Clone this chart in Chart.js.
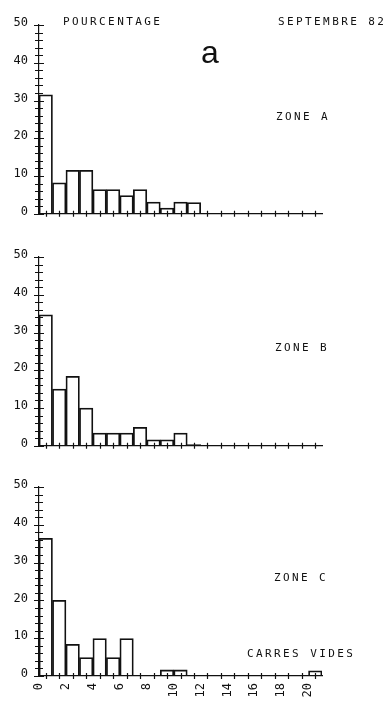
<!DOCTYPE html>
<html>
<head>
<meta charset="utf-8">
<script src="https://cdn.jsdelivr.net/npm/chart.js@4.4.1/dist/chart.umd.min.js"></script>
<style>
  html, body { margin: 0; padding: 0; background: #fff; width: 383px; height: 704px; overflow: hidden; }
  .panel { position: absolute; left: 0; width: 383px; }
  .lbl { position: absolute; font-family: "DejaVu Sans Mono", monospace; font-size: 11px; line-height: 12px;
         letter-spacing: 2.4px; color: #111; white-space: nowrap; }
  #big { position: absolute; left: 201px; top: 36px; font-family: "Liberation Sans", Arial, sans-serif;
         font-size: 32px; line-height: 32px; color: #111; }
</style>
</head>
<body>
<div class="panel" style="top:0;height:232px"><canvas id="chartA"></canvas></div>
<div class="panel" style="top:232px;height:232px"><canvas id="chartB"></canvas></div>
<div class="panel" style="top:462px;height:242px"><canvas id="chartC"></canvas></div>

<div class="lbl" style="left:63px;top:16px">POURCENTAGE</div>
<div class="lbl" style="left:278px;top:16px">SEPTEMBRE 82</div>
<div id="big">a</div>
<div class="lbl" style="left:276px;top:111px">ZONE A</div>
<div class="lbl" style="left:275px;top:342px">ZONE B</div>
<div class="lbl" style="left:274px;top:572px">ZONE C</div>
<div class="lbl" style="left:247px;top:648px">CARRES VIDES</div>

<script>
// classes : nombre de carres vides (0 a 20)
const categories = ['0','1','2','3','4','5','6','7','8','9','10','11','12','13','14','15','16','17','18','19','20'];
const xTickLabels = ['0','','2','','4','','6','','8','','10','','12','','14','','16','','18','','20'];
const yTickValues = [0,2,4,6,8,10,12,14,16,18,20,22,24,26,28,30,32,34,36,38,40,42,44,46,48,50];

// pourcentages
const zoneA = [31.5, 8.2, 11.5, 11.5, 6.4, 6.4, 4.8, 6.4, 3.1, 1.5, 3.1, 3.0, 0, 0, 0, 0, 0, 0, 0, 0, 0];
const zoneB = [34.7, 15.0, 18.4, 10.0, 3.4, 3.4, 3.4, 4.9, 1.6, 1.6, 3.4, 0.3, 0, 0, 0, 0, 0, 0, 0, 0, 0];
const zoneC = [36.4, 20.0, 8.4, 4.9, 9.9, 4.9, 9.9, 0, 0, 1.6, 1.6, 0, 0, 0, 0, 0, 0, 0, 0, 0, 1.4];

const INK = '#111';
const tickFont = { family: 'DejaVu Sans Mono', size: 12 };

// petits traits qui traversent les axes, comme sur le traceur
const crossTicks = {
  id: 'crossTicks',
  afterDraw(chart) {
    const { ctx, chartArea, scales: { x, y } } = chart;
    ctx.save();
    ctx.strokeStyle = INK;
    ctx.lineWidth = 1.2;
    ctx.beginPath();
    y.ticks.forEach(t => {
      const py = Math.round(y.getPixelForValue(t.value)) + 0.5;
      const len = t.value % 10 === 0 ? 5 : 4;
      ctx.moveTo(chartArea.left - len, py);
      ctx.lineTo(chartArea.left + len, py);
    });
    categories.forEach((c, i) => {
      const px = Math.round(x.getPixelForValue(i)) + 0.5;
      ctx.moveTo(px, chartArea.bottom - 3);
      ctx.lineTo(px, chartArea.bottom + 3);
    });
    ctx.stroke();
    ctx.restore();
  }
};

function makeChart(id, values, showX) {
  return new Chart(document.getElementById(id), {
    type: 'bar',
    data: {
      labels: categories,
      datasets: [{
        data: values,
        backgroundColor: 'rgba(255,255,255,0)',
        borderColor: INK,
        borderWidth: 1.1,
        barPercentage: 1,
        categoryPercentage: 1
      }]
    },
    options: {
      responsive: true,
      maintainAspectRatio: false,
      animation: false,
      layout: { padding: { top: 25, right: 61, left: 0, bottom: 0 } },
      plugins: { legend: { display: false }, tooltip: { enabled: false } },
      scales: {
        x: {
          grid: { display: false, drawTicks: false },
          border: { color: INK, width: 1.2 },
          ticks: {
            display: showX,
            autoSkip: false,
            minRotation: 90,
            maxRotation: 90,
            labelOffset: -7,
            padding: 7,
            color: INK,
            font: tickFont,
            callback: (v, i) => xTickLabels[i]
          },
          afterFit: s => { s.height = showX ? 28 : 18; }
        },
        y: {
          min: 0,
          max: 50,
          grid: { display: false, drawTicks: false },
          border: { color: INK, width: 1.2 },
          afterBuildTicks: s => { s.ticks = yTickValues.map(v => ({ value: v })); },
          ticks: {
            autoSkip: false,
            padding: 11,
            labelOffset: -2,
            color: INK,
            font: tickFont,
            callback: v => (v % 10 === 0 ? String(v) : '')
          },
          afterFit: s => { s.width = 39; }
        }
      }
    },
    plugins: [crossTicks]
  });
}

makeChart('chartA', zoneA, false);
makeChart('chartB', zoneB, false);
makeChart('chartC', zoneC, true);
</script>
</body>
</html>
